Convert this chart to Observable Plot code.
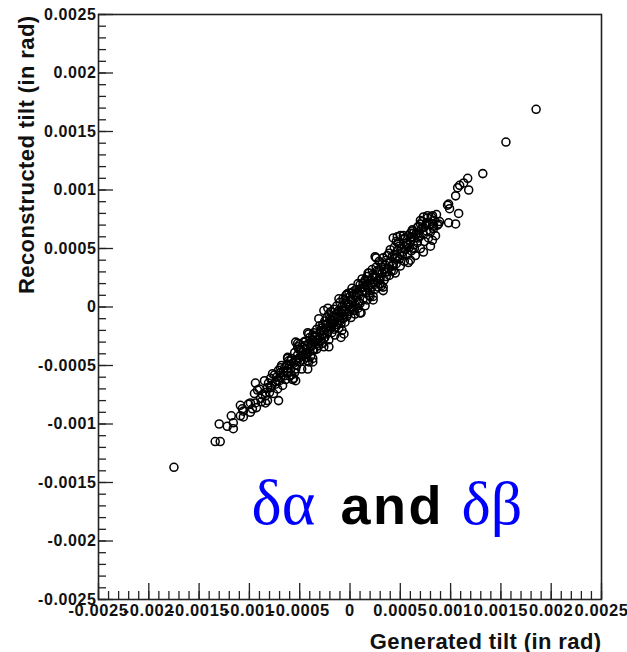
<!DOCTYPE html>
<html>
<head>
<meta charset="utf-8">
<script src="https://cdn.jsdelivr.net/npm/d3@7"></script>
<script src="https://cdn.jsdelivr.net/npm/@observablehq/plot@0.6"></script>
<style>
  html, body { margin: 0; padding: 0; background: #fff; }
  g[aria-label="y-axis tick label"] text, g[aria-label="x-axis tick label"] text { letter-spacing: 0.6px; }
  .ttl text { letter-spacing: 0.4px; }
  .andw text { letter-spacing: 2.5px; }
</style>
</head>
<body>
<div id="chart"></div>
<script>
// Values, in units of 1e-4 rad: [generated, reconstructed]
const upperOutliers = [
  [18.5,16.9],[15.5,14.1],[13.2,11.4],[11.7,11.0],[11.3,10.6],[10.9,10.4],[10.7,10.2],
  [11.8,10.0],[10.5,9.5],[9.8,8.8],[9.9,8.4],[10.8,8.0],[9.8,7.2],[10.5,7.1]
];
const bandEdges = [
  [8.8,7.1],[8.2,7.8],[7.3,7.7],[7.0,7.4],[8.3,6.7],[8.2,5.7],[8.0,5.2],[7.3,4.7],[6.2,6.5],
  [5.3,6.1],[4.7,6.0],[6.0,4.0],[2.6,4.2],[6.8,5.9],[6.7,6.8],[7.7,7.8],[8.7,7.0],[9.7,8.7],
  [5.8,3.8],[6.0,6.3],[5.0,6.1],[4.3,5.9],[3.3,1.4],[3.0,2.0],[2.3,0.6],[1.5,2.3],[1.0,-0.5],
  [0.2,1.2],[-0.4,1.0],[-1.1,0.7],[-0.9,-2.6],[-2.1,-3.4],[-2.2,-0.1],[-3.1,-1.0],[-3.7,-4.7],
  [-4.1,-2.3],[-5.2,-3.1],[-5.4,-6.3],[1.8,2.9],[4.3,3.1],[-2.6,-0.3],[-4.2,-2.2],[-5.4,-3.0],
  [-6.2,-4.4],[-3.7,-4.4],[-2.6,-3.4],[-0.6,-2.3],[3.3,1.7],[4.7,4.3],[2.5,4.3]
];
const lowerTail = [
  [-17.5,-13.7],[-13.4,-11.5],[-12.9,-11.5],[-13.0,-10.0],[-12.2,-10.2],[-11.6,-10.4],[-11.6,-9.9],
  [-11.8,-9.3],[-10.9,-9.3],[-10.6,-8.9],[-9.9,-9.0],[-9.7,-8.7],[-10.9,-8.4],[-10.1,-8.3],
  [-9.4,-8.2],[-8.4,-8.2],[-7.1,-8.0],[-10.6,-9.4],[-10.7,-8.7],[-9.9,-8.2],[-9.4,-6.5],[-9.2,-7.1],
  [-8.9,-7.8],[-8.2,-8.0],[-8.4,-7.3],[-7.9,-6.9],[-7.7,-5.7],[-7.4,-6.4],[-6.9,-5.2],[-6.9,-6.0],
  [-6.2,-5.6],[-5.9,-4.6],[-5.6,-6.1],[-5.4,-5.3],[-5.2,-3.4],[-4.6,-4.1],[-4.1,-4.7],[-3.7,-3.7],
  [-3.6,-3.0],[-4.2,-5.3]
];
const bandCoreA = [
  [-9.5,-7.4],[-9.3,-8.6],[-9.0,-7.0],[-8.8,-8.1],[-8.7,-7.5],[-8.5,-6.3],[-8.4,-7.6],[-8.2,-6.9],
  [-8.0,-7.3],[-7.9,-6.1],[-7.8,-6.7],[-7.6,-7.4],[-7.5,-5.8],[-7.4,-6.6],[-7.3,-6.0],[-7.2,-7.0],
  [-7.1,-5.4],[-7.0,-6.3],[-6.9,-5.6],[-6.8,-5.0],[-6.7,-6.7],[-6.6,-5.9],[-6.5,-5.2],[-6.4,-6.2],
  [-6.3,-5.0],[-6.2,-5.5],[-6.1,-4.6],[-6.0,-5.9],[-6.0,-4.9],[-5.9,-5.3],[-5.8,-4.4],[-5.7,-6.2],
  [-5.6,-4.8],[-5.5,-3.9],[-5.5,-5.6],[-5.4,-4.5],[-5.3,-5.0],[-5.2,-4.1],[-5.1,-3.6],[-5.0,-4.7],
  [-5.0,-3.2],[-4.9,-4.2],[-4.8,-5.3],[-4.7,-3.8],[-4.6,-4.5],[-4.5,-3.3],[-4.4,-4.0],[-4.4,-2.9],
  [-4.3,-3.5],[-4.2,-4.6],[-4.1,-3.1],[-4.0,-3.8],[-4.0,-2.6],[-3.9,-4.2],[-3.8,-3.3],[-3.7,-2.8],
  [-3.6,-3.7],[-3.6,-2.2],[-3.5,-3.0],[-3.4,-2.5],[-3.3,-3.6],[-3.3,-1.9],[-3.2,-2.8],[-3.1,-3.3],
  [-3.0,-2.2],[-3.0,-1.6],[-2.9,-2.9],[-2.8,-2.4],[-2.7,-1.5],[-2.7,-3.1],[-2.6,-2.0],[-2.5,-1.2],
  [-2.5,-2.6],[-2.4,-1.8],[-2.3,-0.9],[-2.3,-2.3],[-2.2,-1.4],[-2.1,-2.8],[-2.1,-0.6],[-2.0,-1.9],
  [-1.9,-1.1],[-1.9,-0.4],[-1.8,-2.2],[-1.8,-1.5],[-1.7,-0.8],[-1.6,-1.9],[-1.6,-0.2],[-1.5,-1.2],
  [-1.5,-2.4],[-1.4,-0.6],[-1.3,-1.5],[-1.3,0.1],[-1.2,-0.9],[-1.1,-0.3],[-1.1,-1.8],[-1.0,0.4],
  [-1.0,-1.2],[-0.9,-0.5],[-0.8,-2.0],[-0.8,0.0],[-0.7,-1.0],[-0.7,0.7],[-0.6,-0.4],[-0.5,-1.3],
  [-0.5,0.6],[-0.4,-0.2],[-0.3,1.1],[-0.3,-0.8],[-0.2,0.3],[-0.1,-0.4],[-0.1,1.2],[0.0,0.0],
  [0.0,0.9],[0.1,-0.9],[0.2,0.5],[0.2,1.6],[0.3,-0.2],[0.4,1.0],[0.5,0.2],[0.5,-0.6]
];
const bandCoreB = [
  [0.6,1.5],[0.7,0.6],[0.8,2.0],[0.8,-0.1],[0.9,1.1],[1.0,0.3],[1.0,1.9],[1.1,-0.5],[1.2,1.3],
  [1.2,2.4],[1.3,0.7],[1.4,1.7],[1.5,0.1],[1.5,2.2],[1.6,1.2],[1.7,2.6],[1.7,0.6],[1.8,1.8],
  [1.9,2.9],[2.0,1.4],[2.0,0.9],[2.1,2.3],[2.2,3.2],[2.2,1.7],[2.3,0.9],[2.4,2.6],[2.5,1.5],
  [2.6,3.4],[2.7,2.2],[2.8,1.7],[2.8,3.0],[2.9,3.9],[3.0,2.5],[3.1,3.4],[3.1,1.8],[3.2,2.9],
  [3.3,4.2],[3.4,2.3],[3.5,3.6],[3.5,3.0],[3.6,2.6],[3.7,4.4],[3.8,3.3],[3.9,2.7],[4.0,3.8],
  [4.0,4.9],[4.1,3.1],[4.2,4.3],[4.3,3.6],[4.4,5.1],[4.5,2.9],[4.5,4.2],[4.6,3.7],[4.7,4.8],
  [4.8,5.5],[4.9,4.1],[5.0,3.5],[5.1,5.0],[5.2,4.4],[5.3,5.8],[5.4,3.9],[5.5,4.9],[5.6,5.4],
  [5.7,4.5],[5.8,6.1],[5.9,5.1],[6.0,5.6],[6.1,4.8],[6.2,6.6],[6.3,5.3],[6.4,5.9],[6.5,4.4],
  [6.6,6.3],[6.7,5.5],[6.8,6.9],[6.9,6.0],[7.0,5.0],[7.1,6.7],[7.2,7.3],[7.3,6.2],[7.4,5.6],
  [7.5,7.0],[7.6,6.5],[7.7,7.6],[7.8,5.9],[7.9,7.1],[8.0,6.4],[8.1,7.7],[8.3,6.9],[8.4,7.4],
  [8.5,6.1],[8.6,7.9],[8.9,7.3]
];
const bandCoreC = [
  [-6.2,-4.3],[-5.8,-5.8],[-5.3,-4.6],[-4.9,-3.7],[-4.6,-3.0],[-4.2,-3.9],[-3.9,-3.4],[-3.5,-2.6],
  [-3.2,-3.1],[-2.9,-2.0],[-2.6,-2.7],[-2.4,-1.5],[-2.2,-2.1],[-2.0,-1.0],[-1.7,-1.4],[-1.4,-1.7],
  [-1.2,-0.4],[-0.9,-1.4],[-0.6,-0.9],[-0.4,0.3],[-0.2,-0.6],[0.1,0.6],[0.3,1.3],[0.4,-0.3],
  [0.6,0.9],[0.9,0.4],[1.1,1.6],[1.3,2.0],[1.6,1.9],[1.9,1.0],[2.1,1.9],[2.3,2.8],[2.6,2.5],
  [2.9,2.4],[3.2,3.7],[3.4,3.2],[3.7,3.0],[3.9,4.6],[4.2,3.5],[4.4,4.5],[4.7,4.2],[4.9,5.2],
  [5.2,4.7],[5.5,5.9],[5.8,5.3],[6.1,6.0],[6.4,5.0],[6.8,6.3],[7.0,7.1],[7.3,6.8],[7.6,7.2],
  [8.2,7.1],[-7.2,-6.3],[-6.6,-5.5],[-8.1,-6.5],[-5.1,-4.4],[-4.3,-4.3],[-3.7,-2.4],[-3.0,-2.6],
  [-1.9,-1.7],[-1.0,-0.8],[-0.1,0.2],[0.7,1.2],[1.5,1.4],[2.4,2.1],[2.7,3.1],[3.6,4.0],[4.6,5.6],
  [5.4,5.2],[6.3,6.3],[1.8,2.3],[-0.8,-0.3],[0.2,-0.1],[-2.8,-1.8],[-4.7,-4.1]
];
const UNIT = 1e-4; // values above are in 1e-4 rad

const majorTicks = [-0.0025,-0.002,-0.0015,-0.001,-0.0005,0,0.0005,0.001,0.0015,0.002,0.0025];
const majorTickLabels = ["-0.0025","-0.002","-0.0015","-0.001","-0.0005","0","0.0005","0.001","0.0015","0.002","0.0025"];
const minorTicks = d3.range(-25, 26).map(i => i * 1e-4);

const xTitle = "Generated tilt (in rad)";
const yTitle = "Reconstructed tilt (in rad)";

const points = [...upperOutliers, ...bandEdges, ...lowerTail, ...bandCoreA, ...bandCoreB, ...bandCoreC]
  .map(([g, r]) => ({gen: g * UNIT, rec: r * UNIT}));

const W = 627, H = 652, ML = 98, MR = 26, MT = 14, MB = 53;
const FW = W - ML - MR, FH = H - MT - MB;
const lab = d => majorTickLabels[majorTicks.indexOf(d)];
const sans = "'Liberation Sans', Arial, Helvetica, sans-serif";
const serif = "'Liberation Serif', 'Times New Roman', serif";

const chart = Plot.plot({
  width: W, height: H,
  marginLeft: ML, marginRight: MR, marginTop: MT, marginBottom: MB,
  style: {fontFamily: sans, background: "#fff", overflow: "visible"},
  x: {domain: [-0.0025, 0.0025]},
  y: {domain: [-0.0025, 0.0025]},
  marks: [
    Plot.ruleX(minorTicks, {x: d => d, insetTop: FH - 8, stroke: "#222", strokeWidth: 1.3}),
    Plot.ruleX(majorTicks, {x: d => d, insetTop: FH - 16, stroke: "#222", strokeWidth: 1.3}),
    Plot.ruleY(minorTicks, {y: d => d, insetRight: FW - 8, stroke: "#222", strokeWidth: 1.3}),
    Plot.ruleY(majorTicks, {y: d => d, insetRight: FW - 15, stroke: "#222", strokeWidth: 1.3}),
    Plot.frame({stroke: "#222", strokeWidth: 1.6}),
    Plot.axisX({ticks: majorTicks, tickFormat: lab, tickSize: 0, tickPadding: 5, label: null,
      fontSize: 16.5, fontWeight: "bold", fill: "#111"}),
    Plot.axisY({ticks: majorTicks, tickFormat: lab, tickSize: 0, tickPadding: 2, label: null,
      fontSize: 16, fontWeight: "bold", fill: "#111"}),
    Plot.dot(points, {x: "gen", y: "rec", r: 4, stroke: "#000", strokeWidth: 1.55, fill: "none"}),
    Plot.text([xTitle], {frameAnchor: "bottom-right", textAnchor: "end", lineAnchor: "bottom",
      dy: 49, fontSize: 22, fontWeight: "bold", fill: "#111", text: d => d, className: "ttl"}),
    Plot.text([yTitle], {frameAnchor: "top-left", textAnchor: "end", lineAnchor: "bottom", rotate: -90,
      dx: -65, dy: 1, fontSize: 22, fontWeight: "bold", fill: "#111", text: d => d, className: "ttl"}),
    Plot.text(["δα"], {frameAnchor: "top-left", textAnchor: "start", lineAnchor: "bottom",
      dx: 153, dy: 509, fontSize: 64, fontFamily: serif, fill: "#0000ff", text: d => d}),
    Plot.text(["and"], {frameAnchor: "top-left", textAnchor: "start", lineAnchor: "bottom",
      dx: 242, dy: 509, fontSize: 54, fontWeight: "bold", fontFamily: sans, fill: "#000", text: d => d, className: "andw"}),
    Plot.text(["δβ"], {frameAnchor: "top-left", textAnchor: "start", lineAnchor: "bottom",
      dx: 363, dy: 509, fontSize: 62, fontFamily: serif, fill: "#0000ff", text: d => d})
  ]
});
document.getElementById("chart").appendChild(chart);
</script>
</body>
</html>
